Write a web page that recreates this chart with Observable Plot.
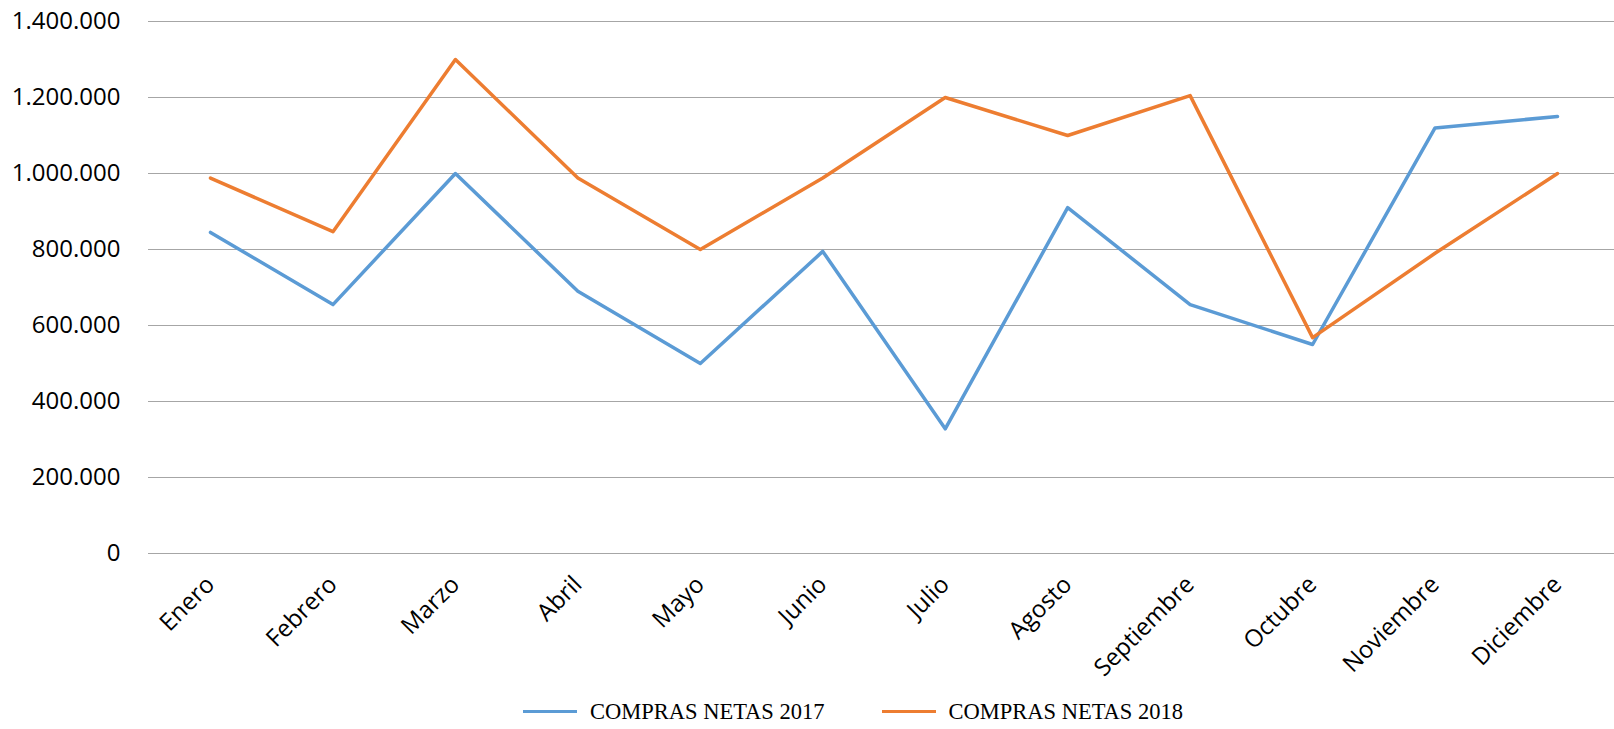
<!DOCTYPE html>
<html>
<head>
<meta charset="utf-8">
<script src="https://cdn.jsdelivr.net/npm/d3@7"></script>
<script src="https://cdn.jsdelivr.net/npm/@observablehq/plot@0.6"></script>
<style>
  html, body { margin: 0; padding: 0; background: #fff; }
  #legend { display: flex; align-items: center; height: 39px; padding-left: 523px;
            font-family: "Liberation Serif", "Times New Roman", serif; font-size: 22.5px; color: #000; }
  .sw { display: inline-block; width: 54px; height: 3.5px; margin-right: 13px; }
  .item { display: flex; align-items: center; }
  .item + .item { margin-left: 57px; }
</style>
</head>
<body>
<div id="chart"></div>
<div id="legend"></div>
<script>
const months = ["Enero","Febrero","Marzo","Abril","Mayo","Junio","Julio","Agosto","Septiembre","Octubre","Noviembre","Diciembre"];
const compras2017 = [845000, 655000, 1000000, 690000, 500000, 795000, 328000, 910000, 655000, 550000, 1120000, 1150000];
const compras2018 = [988000, 847000, 1300000, 988000, 800000, 988000, 1200000, 1100000, 1205000, 568000, 790000, 1000000];
const seriesNames = ["COMPRAS NETAS 2017", "COMPRAS NETAS 2018"];
const seriesColors = ["#5B9BD5", "#ED7D31"];
const yTicks = [0, 200000, 400000, 600000, 800000, 1000000, 1200000, 1400000];

const data = [
  ...months.map((m, i) => ({month: m, value: compras2017[i], series: seriesNames[0]})),
  ...months.map((m, i) => ({month: m, value: compras2018[i], series: seriesNames[1]}))
];

const fmt = d => d3.format(",")(d).replace(/,/g, ".");

const chart = Plot.plot({
  width: 1614,
  height: 692,
  marginLeft: 148,
  marginRight: 0,
  marginTop: 21,
  marginBottom: 139,
  style: {fontFamily: "'Open Sans', sans-serif", fontSize: "24px", color: "#000", background: "#fff"},
  x: {type: "point", domain: months, padding: 0, round: false, range: [210, 1557], label: null},
  y: {domain: [0, 1400000], label: null},
  color: {domain: seriesNames, range: seriesColors},
  marks: [
    Plot.gridY(yTicks, {stroke: "#a6a6a6", strokeOpacity: 1, strokeWidth: 1.2}),
    Plot.axisY(yTicks, {tickSize: 0, tickPadding: 28, tickFormat: fmt, label: null}),
    Plot.axisX({tickSize: 0, tickRotate: -45, tickPadding: 27, label: null}),
    Plot.line(data, {x: "month", y: "value", z: "series", stroke: "series", strokeWidth: 3.5, strokeLinejoin: "round", strokeLinecap: "round"})
  ]
});
document.getElementById("chart").appendChild(chart);

const legend = document.getElementById("legend");
seriesNames.forEach((name, i) => {
  const item = document.createElement("div");
  item.className = "item";
  const sw = document.createElement("span");
  sw.className = "sw";
  sw.style.background = seriesColors[i];
  const label = document.createElement("span");
  label.textContent = name;
  item.appendChild(sw);
  item.appendChild(label);
  legend.appendChild(item);
});
</script>
</body>
</html>
